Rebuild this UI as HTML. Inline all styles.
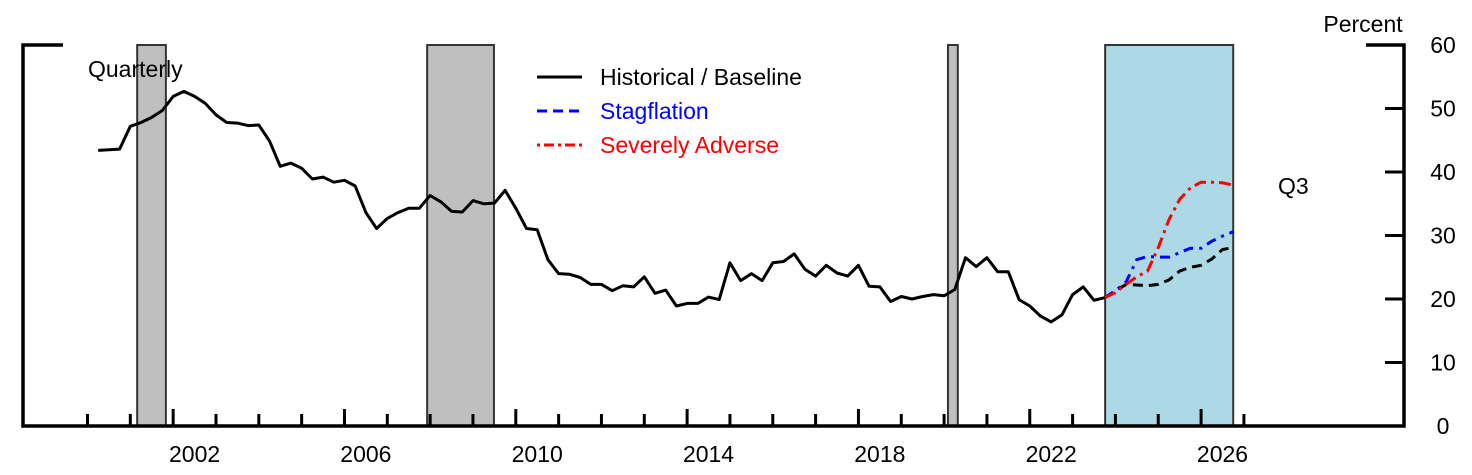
<!DOCTYPE html>
<html><head><meta charset="utf-8">
<style>
html,body{margin:0;padding:0;background:#fff;}
svg{display:block;font-family:"Liberation Sans",Arial,sans-serif;}
</style></head>
<body>
<svg id="chart" width="1472" height="475" viewBox="0 0 1472 475" xmlns="http://www.w3.org/2000/svg">
<g id="shades"></g>
<g id="axes"></g>
<g id="series"></g>
<text x="88" y="77" font-size="23">Quarterly</text>
<text x="1278" y="194" font-size="23">Q3</text>
<text x="1363" y="32" font-size="23" text-anchor="middle">Percent</text>
<g>
  <g>
    <line x1="537" y1="77" x2="582" y2="77" stroke="#000" stroke-width="3"/>
    <text x="600" y="85" font-size="23" fill="#000">Historical / Baseline</text>
  </g>
  <g>
    <line x1="537" y1="111" x2="582" y2="111" stroke="#0000ff" stroke-width="3" stroke-dasharray="10,6"/>
    <text x="600" y="119" font-size="23" fill="#0000ff">Stagflation</text>
  </g>
  <g>
    <line x1="537" y1="145" x2="582" y2="145" stroke="#ff0000" stroke-width="3" stroke-dasharray="3,4,10,4"/>
    <text x="600" y="153" font-size="23" fill="#ff0000">Severely Adverse</text>
  </g>
</g>
</svg>
<script>
const histValues = [43.4,43.5,43.6,47.2,47.8,48.6,49.7,51.9,52.7,51.9,50.8,49.0,47.8,47.7,47.3,47.4,44.9,40.9,41.4,40.6,38.9,39.2,38.4,38.7,37.8,33.6,31.1,32.7,33.6,34.3,34.3,36.3,35.3,33.8,33.7,35.5,35.0,35.1,37.1,34.3,31.1,30.9,26.2,24.0,
23.9,23.4,22.3,22.3,21.3,22.1,21.9,23.5,20.9,21.4,18.9,19.3,19.3,20.3,19.9,25.7,22.9,24.0,22.9,25.7,25.9,27.1,24.7,23.6,25.3,24.1,23.6,25.3,22.0,21.9,19.6,20.4,20.0,20.4,20.7,20.5,21.5,26.5,25.1,26.5,24.3,24.3,19.9,
18.9,17.3,16.4,17.5,20.7,21.9,19.8,20.2];
const baselineValues = [20.2,21.3,22.3,22.2,22.1,22.3,23.0,24.4,25.0,25.3,26.3,27.8,28.1];
const stagflationValues = [20.2,21.3,22.7,26.2,26.7,26.6,26.6,27.3,28.0,28.0,29.1,29.9,30.6];
const severeValues = [20.2,21.0,22.3,23.5,24.4,28.1,32.5,35.7,37.5,38.4,38.4,38.3,37.9];
const startYear = 2000.25;
const recessions = [[2001.16,2001.83],[2007.93,2009.49],[2020.09,2020.32]];
const forecastPeriod = [2023.76,2026.75];
const yTicks = [0,10,20,30,40,50,60];
const xLabelYears = [2002,2006,2010,2014,2018,2022,2026];

const NS='http://www.w3.org/2000/svg';
const X0=87.5, PXY=42.83, YB=426, YT=45, YMAX=60;
const xs = t => X0 + (t-2000)*PXY;
const ys = v => YB - v/YMAX*(YB-YT);
function mk(tag, attrs, parent){const e=document.createElementNS(NS,tag);for(const k in attrs)e.setAttribute(k,attrs[k]);parent.appendChild(e);return e;}
const shades=document.getElementById('shades'), axes=document.getElementById('axes'), series=document.getElementById('series');

recessions.forEach(r=>{
  const e=mk('rect',{x:xs(r[0]),y:YT,width:xs(r[1])-xs(r[0]),height:YB-YT,fill:'#bfbfbf',stroke:'#333',"stroke-width":2},shades);
  
  
});
{
  const e=mk('rect',{x:xs(forecastPeriod[0]),y:YT,width:xs(forecastPeriod[1])-xs(forecastPeriod[0]),height:YB-YT,fill:'#add8e6',stroke:'#333',"stroke-width":2},shades);
  
  
}

const axL=23, axR=1404;
mk('path',{d:`M${axL+40},${YT} H${axL} V${YB} H${axR} V${YT} H${axR-38}`,fill:'none',stroke:'#000',"stroke-width":3.5},axes);
yTicks.forEach(v=>{
  if(v>0 && v<YMAX){
    const t=mk('line',{x1:axR-19,x2:axR,y1:ys(v),y2:ys(v),stroke:'#000',"stroke-width":3},axes);
    
    
  }
  const l=mk('text',{x:1443,y:ys(v)+8,"font-size":23,"text-anchor":"middle"},axes);
  l.textContent=v;
  
  
});
for(let y=2000;y<=2027;y++){
  const major = xLabelYears.includes(y);
  const t=mk('line',{x1:xs(y),x2:xs(y),y1:YB-(major?17:12),y2:YB,stroke:'#000',"stroke-width":3},axes);
  
  
}
xLabelYears.forEach(y=>{
  const l=mk('text',{x:xs(y+0.5),y:462,"font-size":23,"text-anchor":"middle"},axes);
  l.textContent=y;
  
  
});

function pts(vals, i0){return vals.map((v,i)=>`${xs(startYear+(i0+i)*0.25).toFixed(1)},${ys(v).toFixed(1)}`).join(' ');}
const lastIdx = histValues.length-1;
const b=mk('polyline',{points:pts(baselineValues,lastIdx),fill:'none',stroke:'#000',"stroke-width":3,"stroke-dasharray":"10,6"},series);


const s=mk('polyline',{points:pts(stagflationValues,lastIdx),fill:'none',stroke:'#0000ff',"stroke-width":3,"stroke-dasharray":"10,6,3,6"},series);


const r=mk('polyline',{points:pts(severeValues,lastIdx),fill:'none',stroke:'#ff0000',"stroke-width":3,"stroke-dasharray":"12,5,3,5"},series);


const h=mk('polyline',{points:pts(histValues,0),fill:'none',stroke:'#000',"stroke-width":3,"stroke-linejoin":"round"},series);


</script>
</body></html>
